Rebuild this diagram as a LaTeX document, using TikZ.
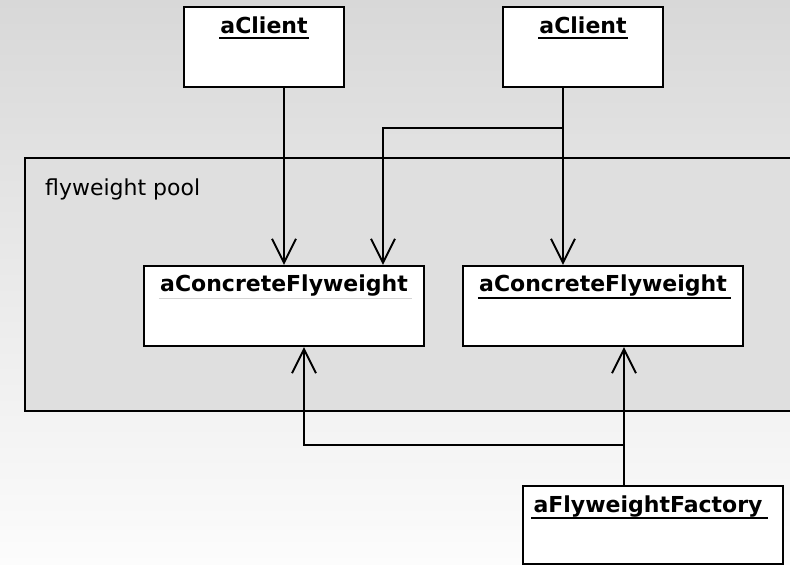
\documentclass[tikz,border=0pt]{standalone}
\usepackage{fontspec}
\setmainfont{DejaVu Sans}
\usetikzlibrary{arrows.meta,calc}
\definecolor{bgtop}{RGB}{216,216,216}
\definecolor{bgbot}{RGB}{252,252,252}
\definecolor{poolfill}{RGB}{223,223,223}
\definecolor{faintline}{RGB}{212,212,212}
\begin{document}
\begin{tikzpicture}[x=1pt,y=-1pt,
  objbox/.style={draw=black,line width=2.2pt,fill=white,inner sep=0pt,minimum height=80pt},
  title/.style={font=\bfseries\fontsize{22}{26}\selectfont,inner sep=0pt,anchor=base},
  uline/.style={line width=1.8pt,draw=black},
  arr/.style={line width=1.9pt,-{Straight Barb[length=24pt,width=24pt]}}]
\useasboundingbox (0,0) rectangle (790,565);
\clip (0,0) rectangle (790,565);
\shade[top color=bgtop,bottom color=bgbot] (0,0) rectangle (790,565);
% pool
\node[draw=black,line width=2.2pt,fill=poolfill,anchor=north west,minimum width=800pt,minimum height=253pt,inner sep=0pt] (pool) at (24,157) {};
\node[font=\fontsize{22}{26}\selectfont,inner sep=0pt,anchor=base west] (poollbl) at (45,195) {flyweight pool};
% boxes
\node[objbox,minimum width=160pt] (c1) at (264,47) {};
\node[objbox,minimum width=160pt] (c2) at (583,47) {};
\node[objbox,minimum width=280pt] (cf1) at (284,306) {};
\node[objbox,minimum width=280pt] (cf2) at (603,306) {};
\node[objbox,minimum width=260pt,minimum height=78pt] (fac) at (653,525) {};
% titles
\node[title] (t1) at (264,33) {aClient};
\node[title] (t2) at (583,33) {aClient};
\node[title] (t3) at (284,291) {aConcreteFlyweight};
\node[title] (t4) at (603,291) {aConcreteFlyweight};
\node[title] (t5) at (648,512) {aFlyweightFactory};
\draw[uline] ($(t1.base west)+(-1,5)$) -- ($(t1.base east)+(1,5)$);
\draw[uline] ($(t2.base west)+(-1,5)$) -- ($(t2.base east)+(1,5)$);
\draw[uline,draw=faintline,line width=1pt] ($(t3.base west)+(-1,7)$) -- ($(t3.base east)+(4,7)$);
\draw[uline] ($(t4.base west)+(-1,7)$) -- ($(t4.base east)+(4,7)$);
\draw[uline] ($(t5.base west)+(-2,6)$) -- ($(t5.base east)+(5,6)$);
% connectors
\draw[arr] (c1.south -| cf1.north) -- (cf1.north);
\draw[arr] ([xshift=-20pt]c2.south) -- ([xshift=-20pt]c2.south |- cf2.north);
\coordinate (j1) at ([xshift=-20pt,yshift=-40pt]c2.south);
\draw[arr] (j1) -| ([xshift=99pt]cf1.north);
\draw[arr] ([xshift=-29pt]fac.north) -- ([xshift=-29pt]fac.north |- cf2.south);
\coordinate (j2) at ([xshift=-29pt,yshift=40pt]fac.north);
\draw[arr] (j2) -| ([xshift=20pt]cf1.south);
\end{tikzpicture}
\end{document}
